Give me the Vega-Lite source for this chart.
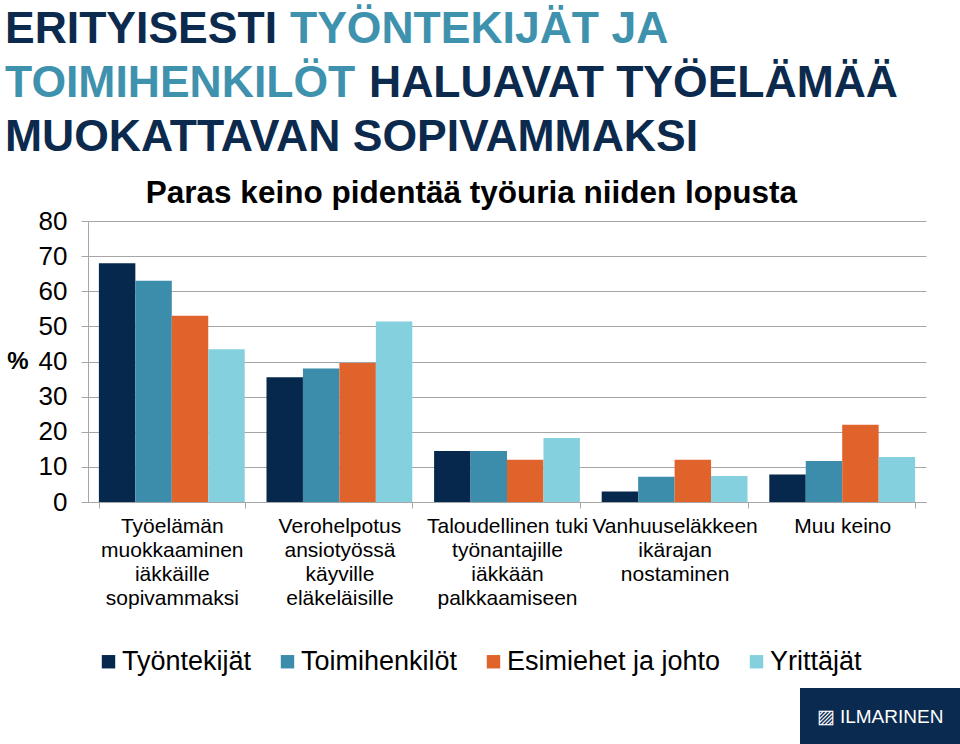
{
  "$schema": "https://vega.github.io/schema/vega-lite/v6.json",
  "padding": {"left": 5, "top": 7, "right": 0, "bottom": 0},
  "background": "white",
  "align": "none",
  "spacing": 6,
  "resolve": {"scale": {"color": "independent"}, "legend": {"color": "independent"}},
  "config": {
    "view": {"stroke": null},
    "font": "Liberation Sans"
  },
  "vconcat": [
    {
      "hconcat": [
        {"width": 1, "height": 1, "data": {"values": [{}]}, "mark": {"type": "text", "text": ""},
         "title": {"text": "ERITYISESTI", "fontSize": 44.5, "fontWeight": "bold", "font": "Liberation Sans", "color": "#0c2a4d", "anchor": "start", "offset": -9, "dx": -83}},
        {"width": 1, "height": 1, "data": {"values": [{}]}, "mark": {"type": "text", "text": ""},
         "title": {"text": "TYÖNTEKIJÄT JA", "fontSize": 44.5, "fontWeight": "bold", "font": "Liberation Sans", "color": "#3f92ad", "anchor": "start", "offset": -9}}
      ],
      "spacing": 13
    },
    {
      "hconcat": [
        {"width": 1, "height": 1, "data": {"values": [{}]}, "mark": {"type": "text", "text": ""},
         "title": {"text": "TOIMIHENKILÖT", "fontSize": 44.5, "fontWeight": "bold", "font": "Liberation Sans", "color": "#3f92ad", "anchor": "start", "offset": -9, "dx": -83}},
        {"width": 1, "height": 1, "data": {"values": [{}]}, "mark": {"type": "text", "text": ""},
         "title": {"text": "HALUAVAT TYÖELÄMÄÄ", "fontSize": 44.5, "fontWeight": "bold", "font": "Liberation Sans", "color": "#0c2a4d", "anchor": "start", "offset": -9}}
      ],
      "spacing": 13
    },
    {
      "hconcat": [
        {"width": 1, "height": 1, "data": {"values": [{}]}, "mark": {"type": "text", "text": ""},
         "title": {"text": "MUOKATTAVAN SOPIVAMMAKSI", "fontSize": 44.5, "fontWeight": "bold", "font": "Liberation Sans", "color": "#0c2a4d", "anchor": "start", "offset": -1, "dx": -83}}
      ]
    },
    {
      "width": 838,
      "height": 281,
      "data": {"values": [
        {"keino": "Työelämän|muokkaaminen|iäkkäille|sopivammaksi", "ryhma": "Työntekijät", "arvo": 68},
        {"keino": "Työelämän|muokkaaminen|iäkkäille|sopivammaksi", "ryhma": "Toimihenkilöt", "arvo": 63},
        {"keino": "Työelämän|muokkaaminen|iäkkäille|sopivammaksi", "ryhma": "Esimiehet ja johto", "arvo": 53},
        {"keino": "Työelämän|muokkaaminen|iäkkäille|sopivammaksi", "ryhma": "Yrittäjät", "arvo": 43.5},
        {"keino": "Verohelpotus|ansiotyössä|käyville|eläkeläisille", "ryhma": "Työntekijät", "arvo": 35.5},
        {"keino": "Verohelpotus|ansiotyössä|käyville|eläkeläisille", "ryhma": "Toimihenkilöt", "arvo": 38},
        {"keino": "Verohelpotus|ansiotyössä|käyville|eläkeläisille", "ryhma": "Esimiehet ja johto", "arvo": 39.6},
        {"keino": "Verohelpotus|ansiotyössä|käyville|eläkeläisille", "ryhma": "Yrittäjät", "arvo": 51.4},
        {"keino": "Taloudellinen tuki|työnantajille|iäkkään|palkkaamiseen", "ryhma": "Työntekijät", "arvo": 14.5},
        {"keino": "Taloudellinen tuki|työnantajille|iäkkään|palkkaamiseen", "ryhma": "Toimihenkilöt", "arvo": 14.5},
        {"keino": "Taloudellinen tuki|työnantajille|iäkkään|palkkaamiseen", "ryhma": "Esimiehet ja johto", "arvo": 12},
        {"keino": "Taloudellinen tuki|työnantajille|iäkkään|palkkaamiseen", "ryhma": "Yrittäjät", "arvo": 18.2},
        {"keino": "Vanhuuseläkkeen|ikärajan|nostaminen", "ryhma": "Työntekijät", "arvo": 3},
        {"keino": "Vanhuuseläkkeen|ikärajan|nostaminen", "ryhma": "Toimihenkilöt", "arvo": 7.2},
        {"keino": "Vanhuuseläkkeen|ikärajan|nostaminen", "ryhma": "Esimiehet ja johto", "arvo": 12},
        {"keino": "Vanhuuseläkkeen|ikärajan|nostaminen", "ryhma": "Yrittäjät", "arvo": 7.4},
        {"keino": "Muu keino", "ryhma": "Työntekijät", "arvo": 7.8},
        {"keino": "Muu keino", "ryhma": "Toimihenkilöt", "arvo": 11.7},
        {"keino": "Muu keino", "ryhma": "Esimiehet ja johto", "arvo": 22},
        {"keino": "Muu keino", "ryhma": "Yrittäjät", "arvo": 12.8}
      ]},
      "title": {"text": "Paras keino pidentää työuria niiden lopusta", "fontSize": 31.5, "fontWeight": "bold", "font": "Liberation Sans", "color": "#000000", "anchor": "middle", "frame": "bounds", "offset": -1, "dx": 5},
      "mark": {"type": "bar"},
      "encoding": {
        "x": {
          "field": "keino", "type": "nominal",
          "sort": ["Työelämän|muokkaaminen|iäkkäille|sopivammaksi", "Verohelpotus|ansiotyössä|käyville|eläkeläisille", "Taloudellinen tuki|työnantajille|iäkkään|palkkaamiseen", "Vanhuuseläkkeen|ikärajan|nostaminen", "Muu keino"],
          "scale": {"paddingInner": 0.13, "paddingOuter": 0.065},
          "axis": {
            "title": null, "labelAngle": 0, "labelExpr": "split(datum.label, '|')",
            "labelFontSize": 21, "labelLineHeight": 24, "labelFont": "Liberation Sans", "labelColor": "#000000",
            "labelLimit": 300, "labelPadding": 7, "labelBaseline": "top",
            "tickBand": "extent", "tickSize": 6, "tickColor": "#a6a6a6", "domainColor": "#a6a6a6", "grid": false
          }
        },
        "xOffset": {"field": "ryhma", "sort": ["Työntekijät", "Toimihenkilöt", "Esimiehet ja johto", "Yrittäjät"], "scale": {"paddingInner": 0, "paddingOuter": 0}},
        "y": {
          "field": "arvo", "type": "quantitative",
          "scale": {"domain": [0, 80], "nice": false},
          "axis": {
            "values": [0, 10, 20, 30, 40, 50, 60, 70, 80],
            "title": "%", "titleAngle": 0, "titleFontSize": 24, "titleFontWeight": "bold", "titleFont": "Liberation Sans", "titleColor": "#000000",
            "titleAlign": "right", "titleBaseline": "middle", "titlePadding": 10,
            "labelFontSize": 26, "labelFont": "Liberation Sans", "labelColor": "#000000", "labelPadding": 14,
            "tickSize": 7, "tickColor": "#a6a6a6", "domainColor": "#a6a6a6", "gridColor": "#a6a6a6", "gridWidth": 1
          }
        },
        "color": {
          "field": "ryhma", "type": "nominal",
          "sort": ["Työntekijät", "Toimihenkilöt", "Esimiehet ja johto", "Yrittäjät"],
          "scale": {"domain": ["Työntekijät", "Toimihenkilöt", "Esimiehet ja johto", "Yrittäjät"], "range": ["#06284c", "#3b8dab", "#df632b", "#85d0de"]},
          "legend": {
            "orient": "bottom", "direction": "horizontal", "title": null,
            "symbolType": "square", "symbolSize": 180, "symbolStrokeWidth": 0,
            "labelFontSize": 27, "labelFont": "Liberation Sans", "labelColor": "#000000", "labelOffset": 0,
            "columnPadding": 22, "offset": 33, "padding": 7, "labelLimit": 400
          }
        }
      }
    },
    {
      "hconcat": [
        {"width": 707, "height": 57, "data": {"values": [{}]}, "mark": {"type": "text", "text": ""}},
        {"width": 160, "height": 57, "view": {"fill": "#0b2a4f", "stroke": null},
         "data": {"values": [{"t": "▨ ILMARINEN"}]},
         "mark": {"type": "text", "color": "#ffffff", "fontSize": 19, "font": "Liberation Sans", "align": "center", "baseline": "middle"},
         "encoding": {"text": {"field": "t"}}}
      ],
      "spacing": 5
    }
  ]
}
